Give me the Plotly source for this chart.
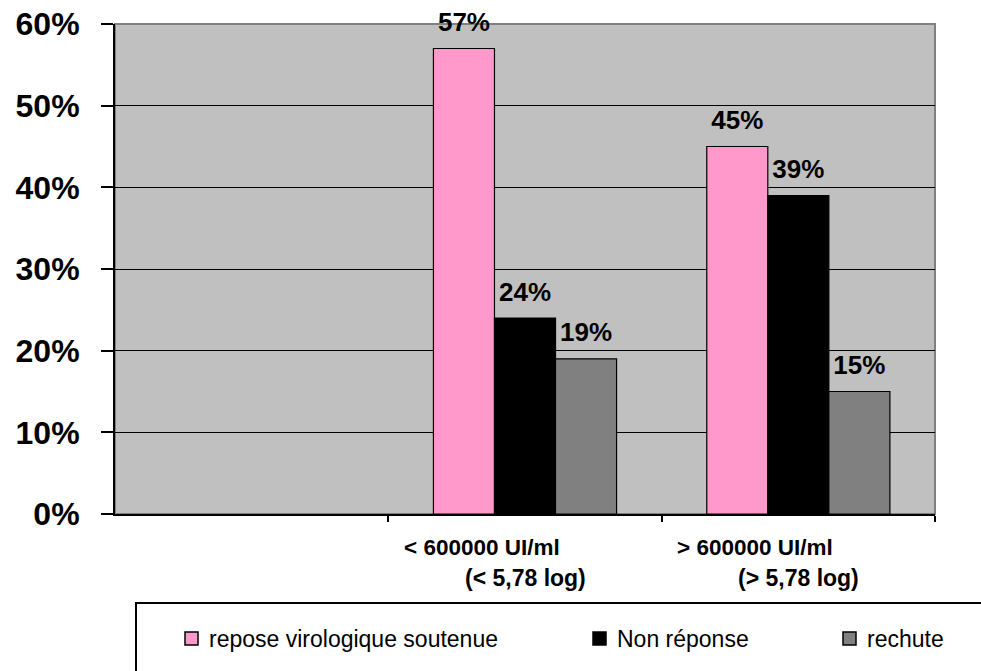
import plotly.graph_objects as go

# Réponse virologique selon la charge virale initiale
categories = ["< 600000 UI/ml (< 5,78 log)", "> 600000 UI/ml (> 5,78 log)"]
cat_line1 = ["< 600000 UI/ml", "> 600000 UI/ml"]
cat_line2 = ["(< 5,78 log)", "(> 5,78 log)"]

series_names = ["repose virologique soutenue", "Non réponse", "rechute"]
reponse_soutenue = [0.57, 0.45]
non_reponse = [0.24, 0.39]
rechute = [0.19, 0.15]

y_tick_values = [0, 0.1, 0.2, 0.3, 0.4, 0.5, 0.6]

series_values = [reponse_soutenue, non_reponse, rechute]
series_colors = ["#FF99CC", "#000000", "#808080"]

W, H = 981, 671
M_L, M_R, M_T, M_B = 115, 46, 24, 157
PW = W - M_L - M_R
PH = H - M_T - M_B


def px_x(v):
    return (v - M_L) / PW


def px_y(v):
    return (H - M_B - v) / PH


FONT = "Liberation Sans, Arial, sans-serif"
GAP = 0.33

fig = go.Figure()

for name, vals, col in zip(series_names, series_values, series_colors):
    fig.add_trace(go.Bar(
        x=categories, y=vals, name=name, offsetgroup=name,
        marker=dict(color=col, line=dict(color="#000000", width=1.2)),
        showlegend=False, hoverinfo="skip",
    ))

# value labels above each bar
for name, vals in zip(series_names, series_values):
    fig.add_trace(go.Scatter(
        x=categories, y=vals, offsetgroup=name,
        mode="markers+text",
        marker=dict(size=16, opacity=0),
        text=[f"{round(v * 100)}%" for v in vals],
        textposition="top center",
        textfont=dict(family=FONT, size=26, color="#000000", weight="bold"),
        cliponaxis=False, showlegend=False, hoverinfo="skip",
    ))

# plot frame (top/right border)
fig.add_shape(type="rect", xref="paper", yref="paper", x0=0, x1=1, y0=0, y1=1,
              line=dict(color="#808080", width=2), layer="below")

# category labels on two lines
for cat, l1, l2 in zip(categories, cat_line1, cat_line2):
    fig.add_annotation(x=cat, xref="x", xshift=-43, y=px_y(547), yref="paper",
                       text=l1, showarrow=False, xanchor="center", yanchor="middle",
                       font=dict(family=FONT, size=22.5, color="#000000", weight="bold"))
    fig.add_annotation(x=cat, xref="x", xshift=0, y=px_y(578), yref="paper",
                       text=l2, showarrow=False, xanchor="center", yanchor="middle",
                       font=dict(family=FONT, size=23, color="#000000", weight="bold"))

# legend box
fig.add_shape(type="rect", xref="paper", yref="paper",
              x0=px_x(136), x1=px_x(1000), y0=px_y(603), y1=px_y(720),
              line=dict(color="#000000", width=2), fillcolor="rgba(0,0,0,0)")
legend_marker_x = [185, 593, 843]
for name, col, mx in zip(series_names, series_colors, legend_marker_x):
    fig.add_shape(type="rect", xref="paper", yref="paper",
                  x0=px_x(mx), x1=px_x(mx + 13), y0=px_y(632), y1=px_y(645),
                  line=dict(color="#000000", width=1.5), fillcolor=col)
    fig.add_annotation(x=px_x(mx + 22), xref="paper", y=px_y(639), yref="paper",
                       text=name, showarrow=False, xanchor="left", yanchor="middle",
                       font=dict(family=FONT, size=23, color="#000000"))

fig.update_layout(
    width=W, height=H,
    margin=dict(l=M_L, r=M_R, t=M_T, b=M_B),
    paper_bgcolor="#FFFFFF", plot_bgcolor="#C0C0C0",
    barmode="group", bargap=GAP, bargroupgap=0,
    scattermode="group", scattergap=GAP,
    font=dict(family=FONT, color="#000000"),
    showlegend=False,
)
fig.update_xaxes(
    type="category", range=[-1.5, 1.5], showticklabels=False, automargin=False,
    tickson="boundaries", ticks="outside", ticklen=6, tickwidth=1.5, tickcolor="#000000",
    showline=True, linecolor="#000000", linewidth=2, showgrid=False, zeroline=False,
)
fig.update_yaxes(
    range=[0, 0.6], tickvals=y_tick_values, tickformat=".0%", automargin=False,
    ticks="outside", ticklen=12, tickwidth=1.5, tickcolor="#000000",
    ticklabelstandoff=15,
    tickfont=dict(family=FONT, size=32, color="#000000", weight="bold"),
    showline=True, linecolor="#000000", linewidth=2,
    showgrid=True, gridcolor="#000000", gridwidth=1.2, zeroline=False,
)

fig.write_html("out.html")
